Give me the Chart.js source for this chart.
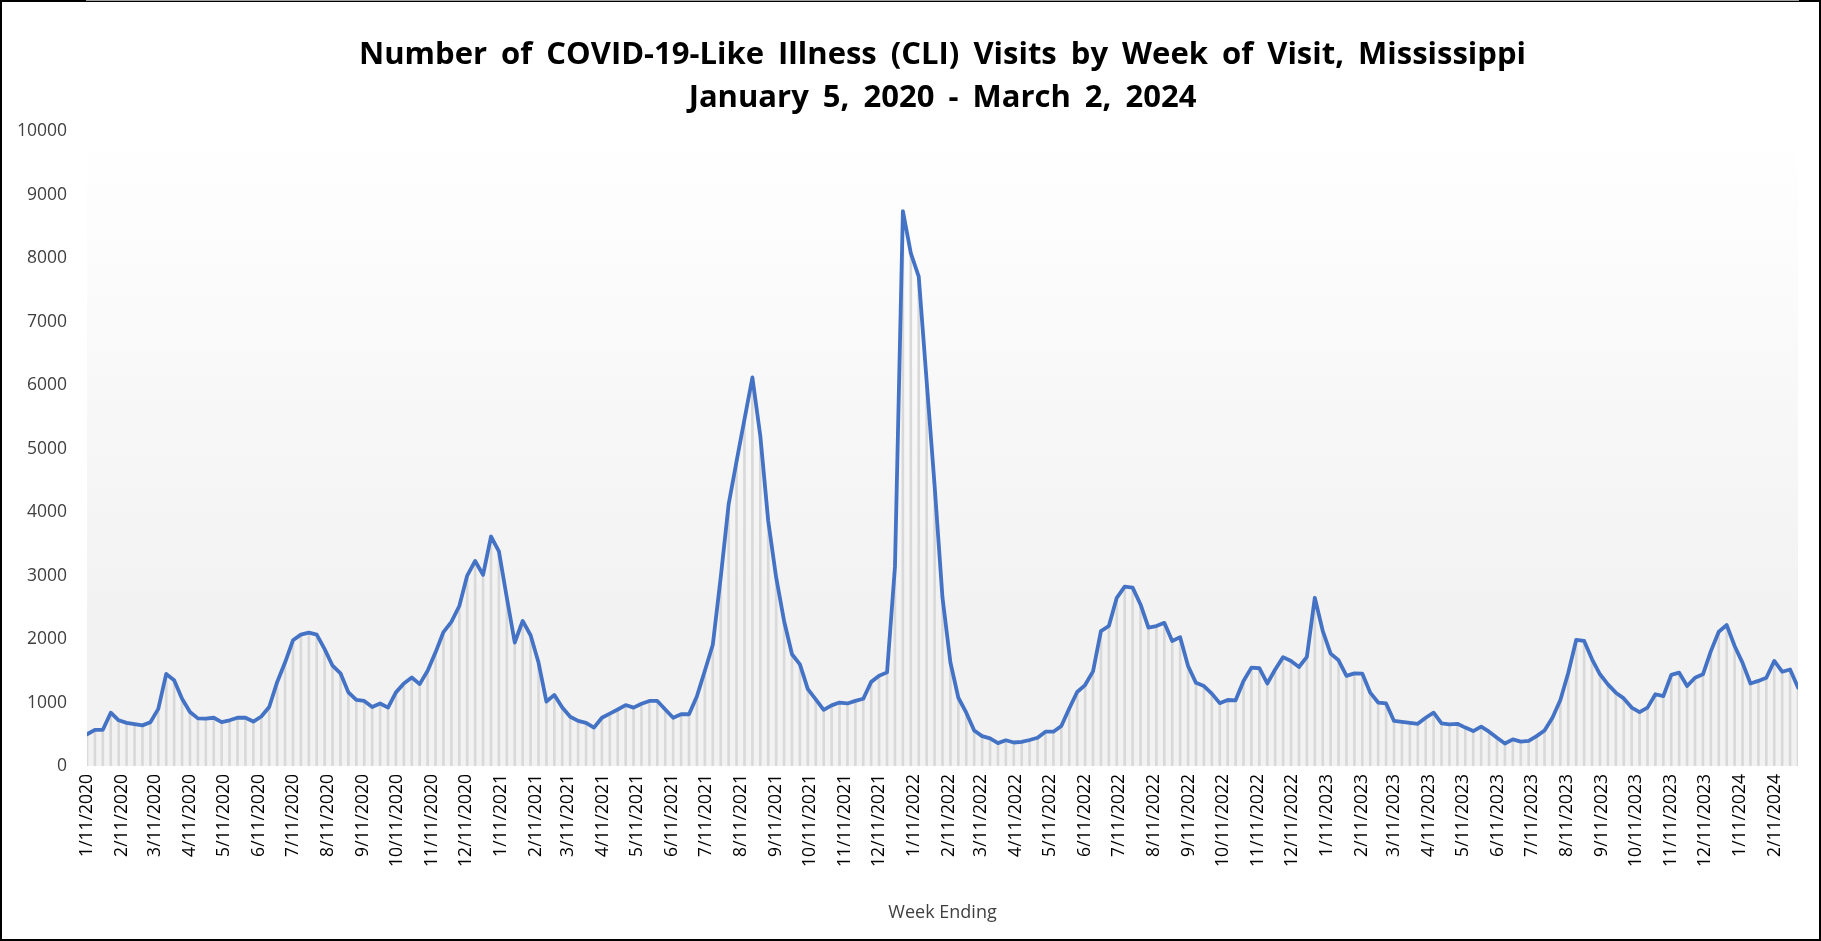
<!DOCTYPE html>
<html>
<head>
<meta charset="utf-8">
<title>COVID-19-Like Illness Visits, Mississippi</title>
<script src="https://cdn.jsdelivr.net/npm/chart.js@4.4.1/dist/chart.umd.min.js"></script>
<style>
    html, body { margin: 0; padding: 0; background: #ffffff; }
    canvas { display: block; }
</style>
</head>
<body>
<canvas id="cliChart" width="1821" height="941"></canvas>
<script>
// weekly CLI visit counts, first week ending 1/11/2020, one value per week
var firstWeekEnding = '1/11/2020';
var visits = [
    500, 570, 570, 840, 720, 680, 660, 640, 690, 900,
    1450, 1350, 1060, 850, 750, 745, 760, 690, 720, 760,
    760, 700, 780, 930, 1320, 1630, 1980, 2070, 2100, 2070,
    1840, 1580, 1460, 1160, 1040, 1025, 930, 985, 920, 1160,
    1300, 1395, 1290, 1500, 1790, 2110, 2270, 2520, 3000, 3230,
    3010, 3615, 3380, 2650, 1945, 2285, 2060, 1630, 1015, 1120,
    920, 775, 710, 680, 605, 760, 825, 890, 960, 920,
    980, 1025, 1025, 890, 760, 815, 815, 1100, 1500, 1910,
    2970, 4120, 4800, 5460, 6120, 5200, 3860, 2970, 2285, 1760,
    1600, 1210, 1050, 885, 955, 1000, 985, 1025, 1060, 1325,
    1420, 1475, 3140, 8740, 8080, 7710, 6060, 4420, 2650, 1630,
    1075, 840, 560, 470, 435, 360, 405, 370, 380, 410,
    445, 540, 540, 630, 905, 1165, 1275, 1490, 2125, 2205,
    2650, 2825, 2810, 2545, 2180, 2205, 2255, 1970, 2030, 1575,
    1310, 1260, 1140, 990, 1040, 1035, 1340, 1550, 1540, 1300,
    1520, 1715, 1655, 1560, 1720, 2650, 2130, 1770, 1665, 1420,
    1460, 1455, 1155, 1000, 985, 710, 695, 680, 665, 760,
    840, 670, 655, 665, 605, 550, 620, 540, 445, 355,
    420, 385, 395, 470, 560, 760, 1040, 1470, 1985, 1970,
    1680, 1445, 1285, 1155, 1065, 920, 850, 920, 1130, 1100,
    1435, 1470, 1260, 1390, 1445, 1810, 2115, 2220, 1890, 1625,
    1300, 1340, 1390, 1655, 1485, 1520, 1235
];

// month labels on the date axis
var monthTicks = [
    '1/11/2020', '2/11/2020', '3/11/2020', '4/11/2020', '5/11/2020', '6/11/2020',
    '7/11/2020', '8/11/2020', '9/11/2020', '10/11/2020', '11/11/2020', '12/11/2020',
    '1/11/2021', '2/11/2021', '3/11/2021', '4/11/2021', '5/11/2021', '6/11/2021',
    '7/11/2021', '8/11/2021', '9/11/2021', '10/11/2021', '11/11/2021', '12/11/2021',
    '1/11/2022', '2/11/2022', '3/11/2022', '4/11/2022', '5/11/2022', '6/11/2022',
    '7/11/2022', '8/11/2022', '9/11/2022', '10/11/2022', '11/11/2022', '12/11/2022',
    '1/11/2023', '2/11/2023', '3/11/2023', '4/11/2023', '5/11/2023', '6/11/2023',
    '7/11/2023', '8/11/2023', '9/11/2023', '10/11/2023', '11/11/2023', '12/11/2023',
    '1/11/2024', '2/11/2024'
];
var yTicks = [0, 1000, 2000, 3000, 4000, 5000, 6000, 7000, 8000, 9000, 10000];

var chartTitle = [
    'Number of COVID-19-Like Illness (CLI) Visits by Week of Visit, Mississippi',
    'January 5, 2020 - March 2, 2024'
];
var xTitle = 'Week Ending';

(function () {
    'use strict';

    var DAY = 86400000;

    function toUtc(label) {
        var p = label.split('/');
        return Date.UTC(+p[2], +p[0] - 1, +p[1]);
    }

    var start = toUtc(firstWeekEnding);

    function dayOffset(label) {
        return Math.round((toUtc(label) - start) / DAY);
    }

    var points = [];
    for (var i = 0; i < visits.length; i++) {
        points.push({ x: i * 7, y: visits[i] });
    }
    var lastDay = (visits.length - 1) * 7;

    var plotBackground = {
        id: 'plotBackground',
        beforeDraw: function (chart) {
            var ctx = chart.ctx;
            var a = chart.chartArea;
            ctx.save();
            ctx.fillStyle = '#ffffff';
            ctx.fillRect(0, 0, chart.width, chart.height);
            var g = ctx.createLinearGradient(0, a.top, 0, a.bottom);
            g.addColorStop(0, '#ffffff');
            g.addColorStop(0.75, '#f2f2f2');
            g.addColorStop(1, '#f2f2f2');
            ctx.fillStyle = g;
            ctx.fillRect(a.left, a.top, a.right - a.left, a.bottom - a.top);
            ctx.strokeStyle = '#000000';
            ctx.lineWidth = 2;
            ctx.strokeRect(1, 1, chart.width - 2, chart.height - 2);
            ctx.restore();
            // the title is set with wide word gaps
            ctx.wordSpacing = '6px';
        },
        beforeDatasetsDraw: function (chart) {
            chart.ctx.wordSpacing = '0px';
        }
    };

    new Chart(document.getElementById('cliChart'), {
        type: 'line',
        data: {
            datasets: [{
                type: 'line',
                data: points,
                borderColor: '#4472c4',
                borderWidth: 3.8,
                pointRadius: 0,
                tension: 0,
                fill: false,
                borderJoinStyle: 'round',
                borderCapStyle: 'round',
                order: 1
            }, {
                type: 'bar',
                data: points,
                backgroundColor: '#d9d9d9',
                borderWidth: 0,
                barThickness: 2,
                order: 2
            }]
        },
        options: {
            responsive: false,
            animation: false,
            layout: { padding: { left: 0, right: 23, top: 0, bottom: 0 } },
            plugins: {
                legend: { display: false },
                tooltip: { enabled: false },
                title: {
                    display: true,
                    text: chartTitle,
                    fullSize: false,
                    color: '#000000',
                    font: { family: 'Open Sans', size: 31, weight: 'bold', lineHeight: 1.39 },
                    padding: { top: 34, bottom: 11 }
                }
            },
            scales: {
                x: {
                    type: 'linear',
                    min: 0,
                    max: lastDay,
                    offset: false,
                    // grid layer (which also carries the axis title) drawn after the datasets
                    grid: { display: false, drawTicks: false, z: 1 },
                    border: { display: true, color: '#d9d9d9', width: 1.5 },
                    afterBuildTicks: function (scale) {
                        scale.ticks = monthTicks.map(function (m) {
                            return { value: dayOffset(m) };
                        });
                    },
                    afterFit: function (scale) {
                        scale.height = 175;
                    },
                    ticks: {
                        autoSkip: false,
                        minRotation: 90,
                        maxRotation: 90,
                        padding: 8,
                        color: '#000000',
                        font: { family: 'Open Sans', size: 17.5 },
                        callback: function (value, index) {
                            return monthTicks[index];
                        }
                    },
                    title: {
                        display: true,
                        text: xTitle,
                        color: '#404040',
                        font: { family: 'Open Sans', size: 18 },
                        padding: { top: 0, bottom: 17 }
                    }
                },
                y: {
                    min: 0,
                    max: 10000,
                    grid: { display: false, drawTicks: false },
                    border: { display: false },
                    afterBuildTicks: function (scale) {
                        scale.ticks = yTicks.map(function (v) {
                            return { value: v };
                        });
                    },
                    afterFit: function (scale) {
                        scale.width = 87;
                    },
                    ticks: {
                        padding: 20,
                        color: '#404040',
                        font: { family: 'Open Sans', size: 17.5 },
                        callback: function (value) {
                            return String(value);
                        }
                    }
                }
            }
        },
        plugins: [plotBackground]
    });
})();
</script>
</body>
</html>
